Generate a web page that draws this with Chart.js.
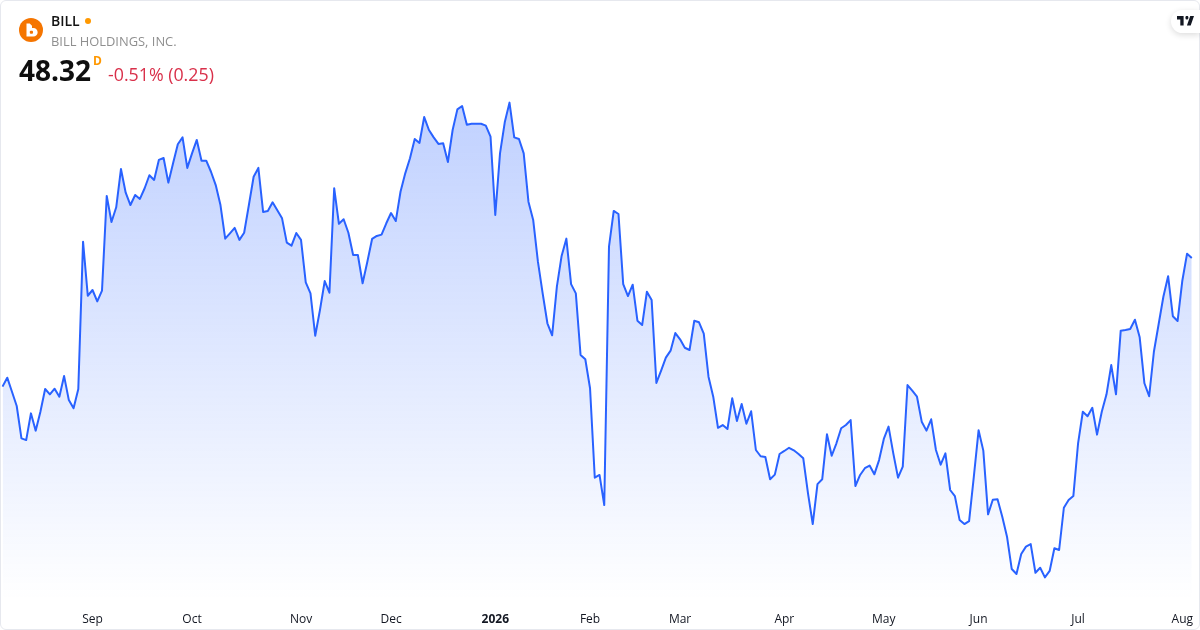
<!DOCTYPE html>
<html><head><meta charset="utf-8">
<style>
html,body{margin:0;padding:0;background:#fff;width:1200px;height:630px;overflow:hidden}
#chart{position:absolute;left:0;top:0}
#card{position:absolute;left:0;top:0;width:1198px;height:628px;border:1px solid #e6e8ee;border-radius:6px;pointer-events:none}
.t{position:absolute;white-space:nowrap;font-family:"Open Sans",sans-serif;line-height:1}
#dot{position:absolute;left:85px;top:18px;width:6px;height:6px;border-radius:50%;background:#ff9800}
#tv{position:absolute;left:1171px;top:10px;width:29px;height:23px;background:#fff;border-radius:12px 0 0 12px;box-shadow:0 2px 6px rgba(0,0,0,.14)}
#tv svg{position:absolute;left:6px;top:6px}
</style></head><body>
<canvas id="chart" width="1200" height="630"></canvas>
<div id="card"></div>
<svg style="position:absolute;left:19px;top:18px" width="24" height="24" viewBox="0 0 24 24">
<circle cx="12" cy="12" r="12" fill="#f57500"/>
<path d="M7.500 5.500h3.200l2.300 2.300v2.200h1.400a4 4 0 0 1 0 8.500H7.500Z" fill="#fff"/><rect x="10.800" y="12.800" width="3.200" height="3" rx="1" fill="#f57500"/>
</svg>
<div class="t" style="left:51px;top:14px;font-size:14px;font-weight:600;color:#131313">BILL</div>
<div id="dot"></div>
<div class="t" style="left:51px;top:35px;font-size:12.900px;color:#8f8f8f">BILL HOLDINGS, INC.</div>
<div class="t" style="left:19px;top:56px;font-size:28px;font-weight:700;color:#0f0f0f">48.32</div>
<div class="t" style="left:93px;top:55px;font-size:12px;font-weight:700;color:#ff9800">D</div>
<div class="t" style="left:108px;top:66px;font-size:17.800px;color:#d9304a">-0.51% (0.25)</div>
<div id="tv"><svg width="17" height="9.500" viewBox="0 6 36 16" preserveAspectRatio="none"><path fill="#131722" d="M14 6H0v6h7v10h7V6Zm15 16h-8l7-16h8l-7 16Zm-8-10a3.2 3.2 0 1 0 0-6.400 3.200 3.200 0 0 0 0 6.400Z"/></svg></div>
<script src="https://cdn.jsdelivr.net/npm/chart.js@4/dist/chart.umd.min.js"></script>
<script>
const monthLabels = ['Sep','Oct','Nov','Dec','2026','Feb','Mar','Apr','May','Jun','Jul','Aug'];
const monthStartIndex = [19,40,63,82,104,124,143,165,186,206,227,249];
const closes = [
40.28,40.84,39.96,39.07,37.05,36.94,38.61,37.53,38.71,40.13,39.80,40.15,39.65,40.94,39.44,38.93,40.13,49.34,45.96,46.32,
45.61,46.28,52.20,50.57,51.49,53.88,52.40,51.63,52.26,52.01,52.68,53.49,53.20,54.45,54.57,53.03,54.24,55.43,55.86,53.95,
54.86,55.70,54.40,54.40,53.71,52.88,51.63,49.53,49.86,50.20,49.45,49.90,51.63,53.40,53.95,51.20,51.26,51.80,51.30,50.80,
49.28,49.09,49.88,49.45,46.80,46.11,43.46,45.07,46.88,46.15,52.68,50.46,50.74,49.90,48.51,48.51,46.74,48.09,49.51,49.70,
49.78,50.49,51.13,50.63,52.46,53.61,54.55,55.76,55.51,57.13,56.32,55.86,55.45,55.49,54.32,56.32,57.61,57.82,56.65,56.71,
56.71,56.71,56.59,55.90,51.01,54.86,56.80,58.03,55.86,55.76,54.86,51.84,50.70,48.09,46.11,44.24,43.49,46.53,48.45,49.53,
46.69,46.11,42.26,41.99,40.18,34.59,34.76,32.88,49.03,51.26,51.07,46.69,45.94,46.65,44.40,44.13,46.21,45.69,40.51,41.28,
42.09,42.53,43.63,43.24,42.71,42.57,44.40,44.30,43.59,40.90,39.65,37.71,37.88,37.63,39.55,38.13,39.19,37.96,38.74,36.32,
35.93,35.88,34.49,34.78,36.07,36.26,36.46,36.30,36.07,35.80,33.61,31.69,34.19,34.49,37.30,35.96,36.74,37.68,37.88,38.19,
34.07,34.76,35.18,35.35,34.80,35.69,37.01,37.78,36.11,34.59,35.28,40.38,40.03,39.65,38.09,37.53,38.24,36.32,35.40,36.11,
33.82,33.44,31.94,31.69,31.88,34.65,37.55,36.28,32.30,33.21,33.24,32.15,30.90,28.88,28.57,29.82,30.28,30.44,28.65,28.96,
28.36,28.76,30.18,30.07,32.71,33.19,33.44,36.74,38.71,38.43,38.96,37.28,38.71,39.80,41.63,39.80,43.78,43.82,43.88,44.46,
43.36,40.49,39.68,42.46,44.18,45.90,47.18,44.68,44.38,46.90,48.59,48.32];
const categories = closes.map((_, i) => {
  const k = monthStartIndex.indexOf(i);
  return k >= 0 ? monthLabels[k] : '';
});
const lineColor = '#2962ff';
new Chart(document.getElementById('chart'), {
  type: 'line',
  data: { labels: categories, datasets: [{
    data: closes,
    borderColor: lineColor,
    borderWidth: 2,
    borderJoinStyle: 'round',
    pointRadius: 0,
    tension: 0,
    fill: 'start',
    backgroundColor: ctx => {
      const a = ctx.chart.chartArea;
      if (!a) return 'rgba(41,98,255,0.2)';
      const g = ctx.chart.ctx.createLinearGradient(0, a.top, 0, a.bottom);
      g.addColorStop(0, 'rgba(41,98,255,0.3)');
      g.addColorStop(1, 'rgba(41,98,255,0)');
      return g;
    }
  }]},
  options: {
    responsive: false,
    animation: false,
    devicePixelRatio: 1,
    layout: { padding: { left: 2.5, right: 8.2, top: 90, bottom: 0 } },
    plugins: { legend: { display: false }, tooltip: { enabled: false } },
    scales: {
      y: { display: false, min: 26.945, max: 58.82 },
      x: {
        offset: false,
        border: { display: false },
        grid: { display: false, drawTicks: false },
        afterFit: s => { s.height = 30; s.paddingLeft = 0; s.paddingRight = 0; },
        afterBuildTicks: s => { s.ticks = monthStartIndex.map(i => ({ value: i })); },
        ticks: {
          autoSkip: false, maxRotation: 0, minRotation: 0, padding: 12, color: '#131722',
          font: c => ({ family: '"Open Sans", sans-serif', size: 12, weight: c.tick && c.tick.label === '2026' ? '700' : '400' }),
          callback: function (v) { return this.getLabelForValue(v); }
        }
      }
    }
  }
});
</script>
</body></html>
